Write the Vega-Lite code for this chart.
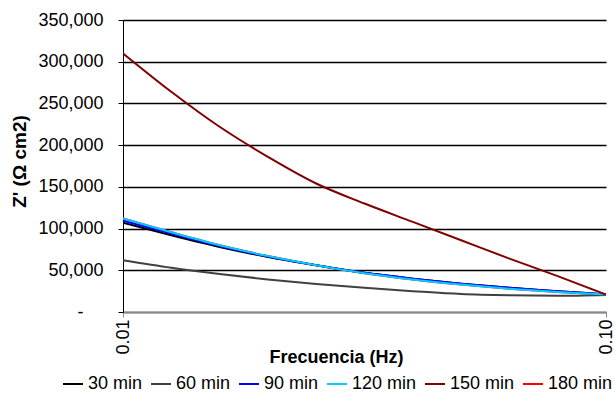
{
  "$schema": "https://vega.github.io/schema/vega-lite/v6.json",
  "width": 483,
  "height": 292,
  "autosize": "none",
  "padding": {"left": 123, "top": 20, "right": 10, "bottom": 92},
  "background": "white",
  "config": {
    "font": "Liberation Sans",
    "view": {"stroke": null},
    "axis": {"labelColor": "black", "titleColor": "black", "labelFontSize": 18, "titleFontSize": 18, "titleFontWeight": "bold", "labelFont": "Liberation Sans", "titleFont": "Liberation Sans"},
    "legend": {"labelFont": "Liberation Sans", "labelColor": "black"}
  },
  "data": {
    "values": [
      {"f": 0.01, "z": 112000, "serie": "180 min"},
      {"f": 0.012589, "z": 95500, "serie": "180 min"},
      {"f": 0.015849, "z": 80000, "serie": "180 min"},
      {"f": 0.019953, "z": 67000, "serie": "180 min"},
      {"f": 0.025119, "z": 56000, "serie": "180 min"},
      {"f": 0.031623, "z": 46500, "serie": "180 min"},
      {"f": 0.039811, "z": 39000, "serie": "180 min"},
      {"f": 0.050119, "z": 33000, "serie": "180 min"},
      {"f": 0.063096, "z": 28000, "serie": "180 min"},
      {"f": 0.079433, "z": 24000, "serie": "180 min"},
      {"f": 0.1, "z": 21000, "serie": "180 min"},

      {"f": 0.01, "z": 107000, "serie": "30 min"},
      {"f": 0.012589, "z": 92000, "serie": "30 min"},
      {"f": 0.015849, "z": 78000, "serie": "30 min"},
      {"f": 0.019953, "z": 66000, "serie": "30 min"},
      {"f": 0.025119, "z": 56000, "serie": "30 min"},
      {"f": 0.031623, "z": 47000, "serie": "30 min"},
      {"f": 0.039811, "z": 40000, "serie": "30 min"},
      {"f": 0.050119, "z": 34000, "serie": "30 min"},
      {"f": 0.063096, "z": 29000, "serie": "30 min"},
      {"f": 0.079433, "z": 25000, "serie": "30 min"},
      {"f": 0.1, "z": 21000, "serie": "30 min"},

      {"f": 0.01, "z": 62000, "serie": "60 min"},
      {"f": 0.012589, "z": 53000, "serie": "60 min"},
      {"f": 0.015849, "z": 45500, "serie": "60 min"},
      {"f": 0.019953, "z": 39000, "serie": "60 min"},
      {"f": 0.025119, "z": 33500, "serie": "60 min"},
      {"f": 0.031623, "z": 29000, "serie": "60 min"},
      {"f": 0.039811, "z": 25000, "serie": "60 min"},
      {"f": 0.050119, "z": 21500, "serie": "60 min"},
      {"f": 0.063096, "z": 20000, "serie": "60 min"},
      {"f": 0.079433, "z": 19500, "serie": "60 min"},
      {"f": 0.1, "z": 20500, "serie": "60 min"},

      {"f": 0.01, "z": 109500, "serie": "90 min"},
      {"f": 0.012589, "z": 94000, "serie": "90 min"},
      {"f": 0.015849, "z": 79000, "serie": "90 min"},
      {"f": 0.019953, "z": 66500, "serie": "90 min"},
      {"f": 0.025119, "z": 56000, "serie": "90 min"},
      {"f": 0.031623, "z": 47000, "serie": "90 min"},
      {"f": 0.039811, "z": 40000, "serie": "90 min"},
      {"f": 0.050119, "z": 34000, "serie": "90 min"},
      {"f": 0.063096, "z": 29000, "serie": "90 min"},
      {"f": 0.079433, "z": 25000, "serie": "90 min"},
      {"f": 0.1, "z": 21000, "serie": "90 min"},

      {"f": 0.01, "z": 112000, "serie": "120 min"},
      {"f": 0.012589, "z": 95500, "serie": "120 min"},
      {"f": 0.015849, "z": 80000, "serie": "120 min"},
      {"f": 0.019953, "z": 67000, "serie": "120 min"},
      {"f": 0.025119, "z": 56000, "serie": "120 min"},
      {"f": 0.031623, "z": 46500, "serie": "120 min"},
      {"f": 0.039811, "z": 39000, "serie": "120 min"},
      {"f": 0.050119, "z": 33000, "serie": "120 min"},
      {"f": 0.063096, "z": 28000, "serie": "120 min"},
      {"f": 0.079433, "z": 24000, "serie": "120 min"},
      {"f": 0.1, "z": 21000, "serie": "120 min"},

      {"f": 0.01, "z": 310000, "serie": "150 min"},
      {"f": 0.012589, "z": 264000, "serie": "150 min"},
      {"f": 0.015849, "z": 222000, "serie": "150 min"},
      {"f": 0.019953, "z": 186000, "serie": "150 min"},
      {"f": 0.025119, "z": 154000, "serie": "150 min"},
      {"f": 0.031623, "z": 130000, "serie": "150 min"},
      {"f": 0.039811, "z": 108000, "serie": "150 min"},
      {"f": 0.050119, "z": 86000, "serie": "150 min"},
      {"f": 0.063096, "z": 64000, "serie": "150 min"},
      {"f": 0.079433, "z": 43000, "serie": "150 min"},
      {"f": 0.1, "z": 21000, "serie": "150 min"}
    ]
  },
  "mark": {"type": "line", "strokeWidth": 2, "interpolate": "monotone", "clip": true},
  "encoding": {
    "x": {
      "field": "f",
      "type": "quantitative",
      "scale": {"type": "log", "domain": [0.01, 0.1], "nice": false},
      "axis": {
        "values": [0.01, 0.1],
        "format": ".2f",
        "labelAngle": -90,
        "labelPadding": 2,
        "tickSize": 5,
        "tickColor": "#888888",
        "domainColor": "#888888",
        "domainWidth": 1.5,
        "grid": false,
        "title": "Frecuencia (Hz)",
        "titleX": 213,
        "titleY": 45,
        "titleAlign": "center",
        "titleBaseline": "middle"
      }
    },
    "y": {
      "field": "z",
      "type": "quantitative",
      "scale": {"domain": [0, 350000], "nice": false},
      "axis": {
        "values": [0, 50000, 100000, 150000, 200000, 250000, 300000, 350000],
        "labelExpr": "datum.value == 0 ? '-' : format(datum.value, ',')",
        "labelPadding": {"condition": {"test": "datum.value == 0", "value": 35}, "value": 15},
        "tickSize": 5,
        "tickColor": "black",
        "domainColor": "black",
        "grid": true,
        "gridColor": "black",
        "gridOpacity": 1,
        "gridWidth": 1.5,
        "title": "Z' (Ω cm2)",
        "titleFontSize": 19,
        "titleAngle": -90,
        "titleX": -104,
        "titleY": 141,
        "titleAlign": "center",
        "titleBaseline": "middle"
      }
    },
    "color": {
      "field": "serie",
      "type": "nominal",
      "scale": {
        "domain": ["30 min", "60 min", "90 min", "120 min", "150 min", "180 min"],
        "range": ["#000000", "#404040", "#0000FF", "#00CCFF", "#800000", "#FF0000"]
      },
      "legend": {
        "orient": "none",
        "legendX": -61,
        "legendY": 353,
        "direction": "horizontal",
        "title": null,
        "symbolType": "stroke",
        "symbolSize": 400,
        "symbolStrokeWidth": 2,
        "labelFontSize": 18,
        "labelOffset": 4,
        "columnPadding": 4
      }
    }
  }
}
